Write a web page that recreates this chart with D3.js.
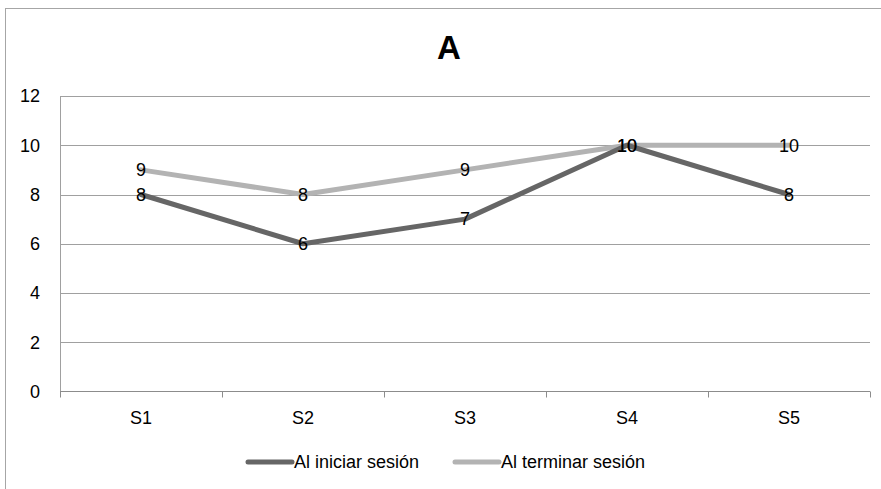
<!DOCTYPE html>
<html>
<head>
<meta charset="utf-8">
<script src="https://cdn.jsdelivr.net/npm/d3@7"></script>
<style>
  body { margin: 0; background: #fff; }
  text { font-family: "Liberation Sans", Arial, sans-serif; fill: #000; }
</style>
</head>
<body>
<svg width="881" height="489"></svg>
<script>
const categories = ["S1", "S2", "S3", "S4", "S5"];
const seriesNames = ["Al iniciar sesión", "Al terminar sesión"];
const inicio = [8, 6, 7, 10, 8];
const termino = [9, 8, 9, 10, 10];
const yTicks = [0, 2, 4, 6, 8, 10, 12];
const colors = ["#666666", "#b3b3b3"];

const svg = d3.select("svg"),
    width = +svg.attr("width"),
    height = +svg.attr("height");

const fontSize = "18px";

// chart border (only left and top inside the picture)
svg.append("rect")
    .attr("x", 5.5).attr("y", 8.5)
    .attr("width", 1000).attr("height", 1000)
    .style("fill", "none").style("stroke", "#a6a6a6");

svg.append("text")
    .attr("x", 449).attr("y", 59)
    .style("text-anchor", "middle")
    .style("font-size", "33px").style("font-weight", "bold")
    .text("A");

const plotLeft = 60, plotRight = 870, plotTop = 96, plotBottom = 391.5;

const x = d3.scaleBand().domain(categories).range([plotLeft, plotRight]);
const y = d3.scaleLinear().domain([0, 12]).range([plotBottom, plotTop]);

// gridlines
svg.append("g").selectAll("line")
    .data(yTicks.slice(1))
    .enter().append("line")
    .attr("x1", plotLeft).attr("x2", plotRight)
    .attr("y1", d => Math.round(y(d)) + 0.5).attr("y2", d => Math.round(y(d)) + 0.5)
    .style("stroke", "#a0a0a0");

// y axis line
svg.append("line")
    .attr("x1", plotLeft + 0.5).attr("x2", plotLeft + 0.5)
    .attr("y1", plotTop).attr("y2", plotBottom)
    .style("stroke", "#a0a0a0");

// y labels
svg.append("g").selectAll("text")
    .data(yTicks)
    .enter().append("text")
    .attr("x", 40).attr("y", d => y(d))
    .attr("dy", "0.35em")
    .style("text-anchor", "end")
    .style("font-size", fontSize)
    .text(d => d);

// x axis with tick marks at band boundaries
svg.append("line")
    .attr("x1", plotLeft).attr("x2", plotRight)
    .attr("y1", plotBottom).attr("y2", plotBottom)
    .style("stroke", "#8c8c8c");
const bounds = categories.map(c => x(c)).concat([plotRight]);
svg.append("g").selectAll("line")
    .data(bounds)
    .enter().append("line")
    .attr("x1", d => Math.round(d) + 0.5).attr("x2", d => Math.round(d) + 0.5)
    .attr("y1", plotBottom).attr("y2", plotBottom + 6)
    .style("stroke", "#8c8c8c");

svg.append("g").selectAll("text")
    .data(categories)
    .enter().append("text")
    .attr("x", d => x(d) + x.bandwidth() / 2)
    .attr("y", 418).attr("dy", "0.35em")
    .style("text-anchor", "middle")
    .style("font-size", fontSize)
    .text(d => d);

const line = d3.line()
    .x((d, i) => x(categories[i]) + x.bandwidth() / 2)
    .y(d => y(d));

const series = [inicio, termino];
// draw light series last so it sits on top
[1, 0].forEach(k => {
    svg.append("path")
        .datum(series[k])
        .attr("d", line)
        .style("fill", "none")
        .style("stroke", colors[k])
        .style("stroke-width", 5)
        .style("stroke-linejoin", "round")
        .style("stroke-linecap", "round");
});

// data labels centered on the points
series.forEach(vals => {
    svg.append("g").selectAll("text")
        .data(vals)
        .enter().append("text")
        .attr("x", (d, i) => x(categories[i]) + x.bandwidth() / 2)
        .attr("y", d => y(d))
        .attr("dy", "0.35em")
        .style("text-anchor", "middle")
        .style("font-size", fontSize)
        .text(d => d);
});

// legend
const legend = svg.append("g");
const legendX = [248, 455];
seriesNames.forEach((name, k) => {
    legend.append("line")
        .attr("x1", legendX[k]).attr("x2", legendX[k] + 44)
        .attr("y1", 462).attr("y2", 462)
        .style("stroke", colors[k])
        .style("stroke-width", 5)
        .style("stroke-linecap", "round");
    legend.append("text")
        .attr("x", legendX[k] + 46).attr("y", 462)
        .attr("dy", "0.35em")
        .style("font-size", fontSize)
        .text(name);
});
</script>
</body>
</html>
